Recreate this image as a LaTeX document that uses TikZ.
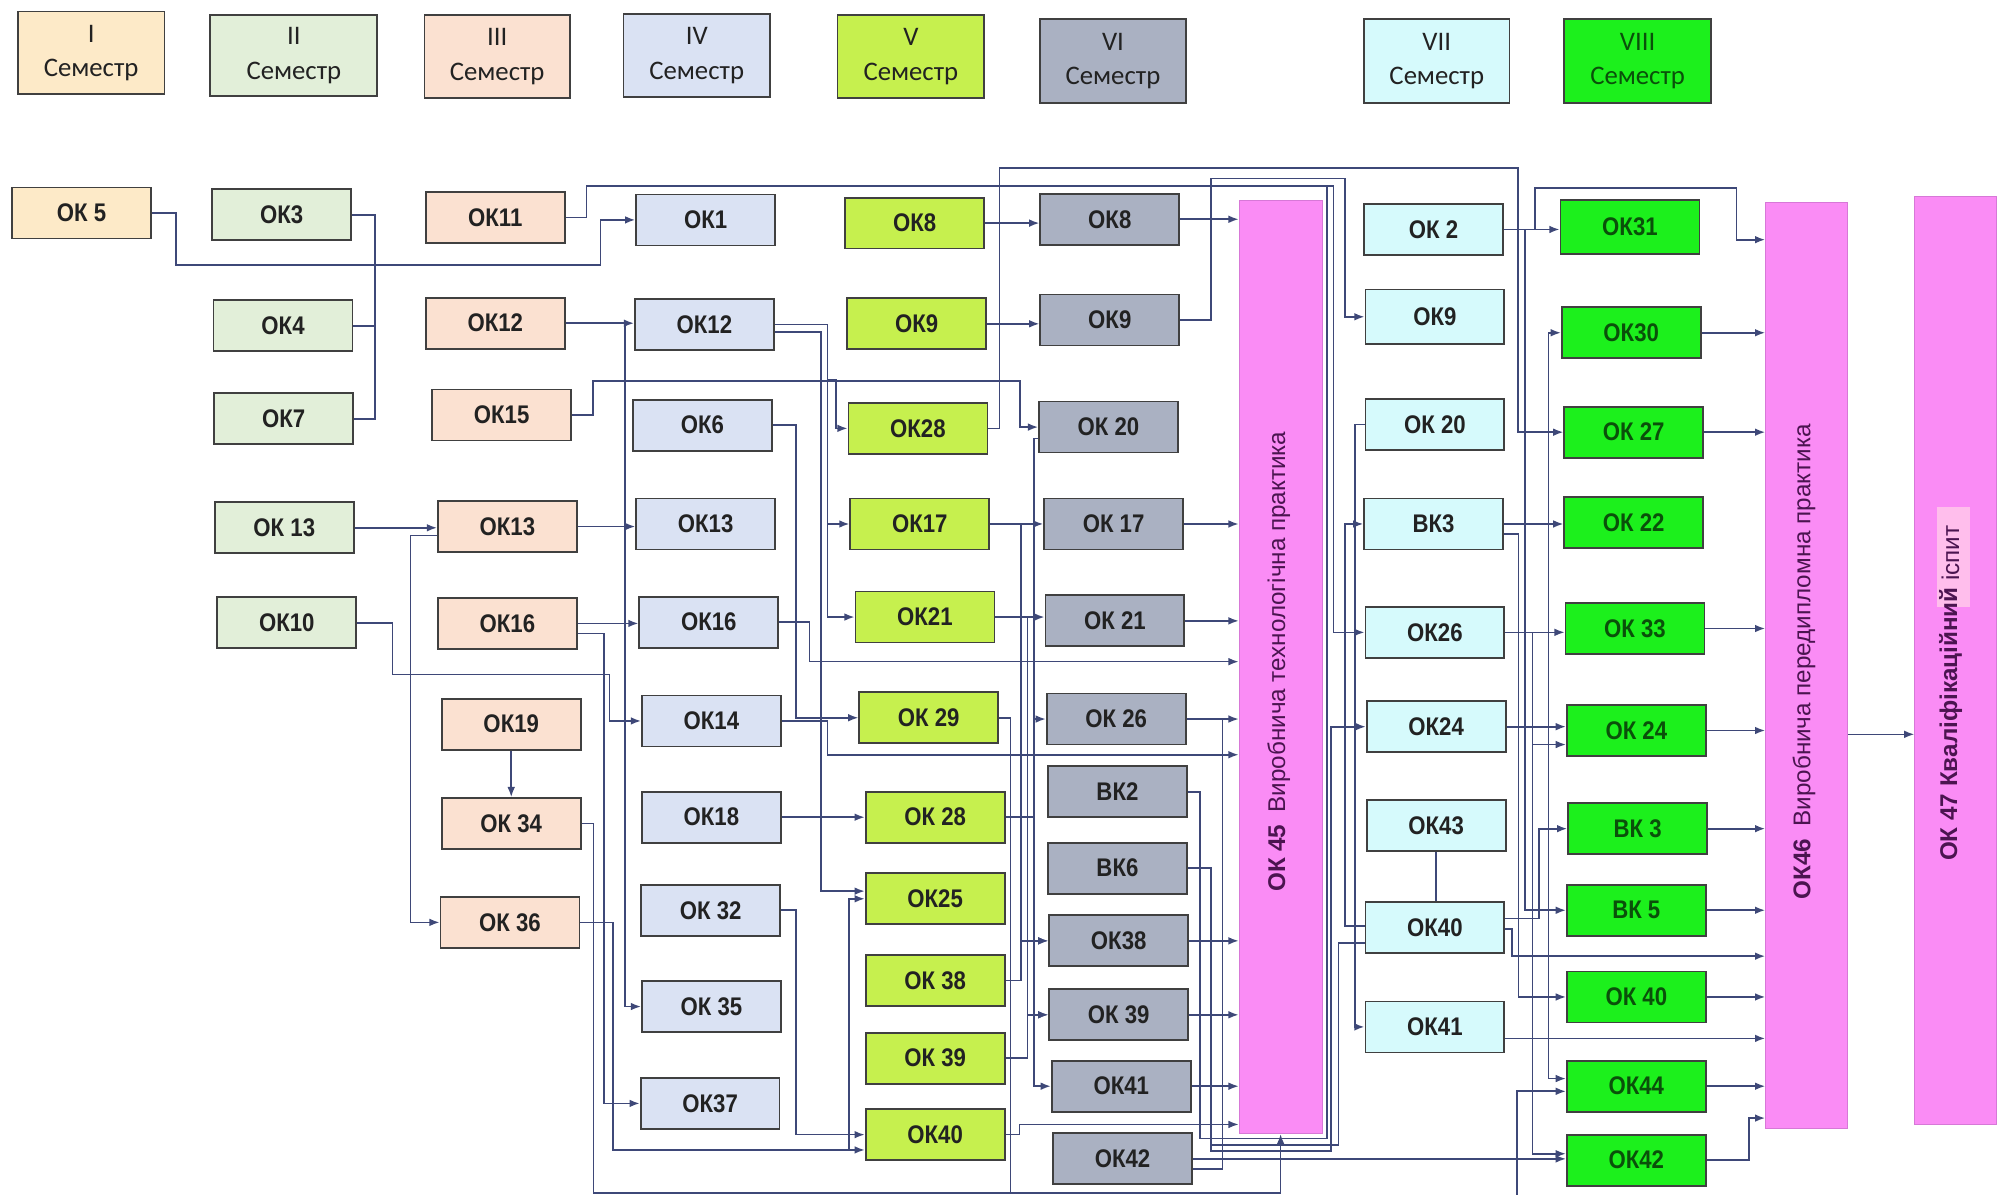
\documentclass[tikz,border=0pt]{standalone}
\usepackage{fontspec}
\setmainfont{Liberation Sans}[FakeStretch=0.87]
\newfontfamily\semfont{Carlito}
\newfontfamily\pracfont{Liberation Sans}
\usetikzlibrary{arrows.meta}

\definecolor{cI}{RGB}{253,234,200}
\definecolor{cII}{RGB}{226,239,217}
\definecolor{cIII}{RGB}{251,225,209}
\definecolor{cIV}{RGB}{218,226,243}
\definecolor{cV}{RGB}{198,240,78}
\definecolor{cVI}{RGB}{170,177,194}
\definecolor{cVII}{RGB}{214,250,252}
\definecolor{cVIII}{RGB}{28,240,28}
\definecolor{cP}{RGB}{250,140,245}
\definecolor{cPl}{RGB}{255,190,236}
\definecolor{pbord}{RGB}{215,120,215}
\definecolor{bord}{RGB}{64,64,64}
\definecolor{txt}{RGB}{34,34,34}
\definecolor{txtg}{RGB}{10,80,10}
\definecolor{ptxt}{RGB}{75,20,80}
\definecolor{lnc}{RGB}{62,72,120}

\newcommand{\boxfont}{\fontsize{20}{24}\selectfont\bfseries}
\newcommand{\legfont}{\semfont\fontsize{21}{27}\selectfont}
\newcommand{\ptfont}{\pracfont\fontsize{19}{22}\selectfont}

\tikzset{
  disc/.style={draw=bord, line width=1.4pt, minimum width=109pt, minimum height=40pt, inner sep=0pt, font=\boxfont, text=txt},
  kI/.style={disc, fill=cI},
  kII/.style={disc, fill=cII},
  kIII/.style={disc, fill=cIII},
  kIV/.style={disc, fill=cIV},
  kV/.style={disc, fill=cV},
  kVI/.style={disc, fill=cVI},
  kVII/.style={disc, fill=cVII},
  kVIII/.style={disc, fill=cVIII, text=txtg},
  leg/.style={draw=bord, line width=1.4pt, inner sep=0pt, align=center, font=\legfont, text=txt},
  prac/.style={draw=pbord, line width=0.8pt, fill=cP, inner sep=0pt},
  ptext/.style={font=\ptfont, text=ptxt, rotate=90},
  flow/.style={draw=lnc, line width=1.3pt, -{Latex[length=8pt,width=6pt]}},
  wire/.style={draw=lnc, line width=1.3pt}
}

\begin{document}
\begin{tikzpicture}[x=1pt, y=-1pt]
        \fill [white] (0,0) rectangle (1568,937);
        \useasboundingbox (0,0) rectangle (1568,937);

        \node [leg, fill=cI, minimum width=115pt, minimum height=65pt] (legI) at (71.5,41.5) {I\\Семестр};
        \node [leg, fill=cII, minimum width=131pt, minimum height=63pt] (legII) at (230.5,43.5) {II\\Семестр};
        \node [leg, fill=cIII, minimum width=114pt, minimum height=65pt] (legIII) at (390,44.5) {III\\Семестр};
        \node [leg, fill=cIV, minimum width=115pt, minimum height=65pt] (legIV) at (546.5,43.5) {IV\\Семестр};
        \node [leg, fill=cV, minimum width=115pt, minimum height=65pt] (legV) at (714.5,44.5) {V\\Семестр};
        \node [leg, fill=cVI, minimum width=114pt, minimum height=66pt] (legVI) at (873,48) {VI\\Семестр};
        \node [leg, fill=cVII, minimum width=114pt, minimum height=66pt] (legVII) at (1127,48) {VII\\Семестр};
        \node [leg, fill=cVIII, text=txtg, minimum width=115pt, minimum height=66pt] (legVIII) at (1284.5,48) {VIII\\Семестр};

        \node [kI] (s1k5) at (64,167) {ОК 5};

        \node [kII] (s2k3) at (221,168.5) {ОК3};
        \node [kII] (s2k4) at (222,255.5) {ОК4};
        \node [kII] (s2k7) at (222.5,328.5) {ОК7};
        \node [kII] (s2k13) at (223,414) {ОК 13};
        \node [kII] (s2k10) at (225,488.5) {ОК10};

        \node [kIII] (s3k11) at (388.5,170.5) {ОК11};
        \node [kIII] (s3k12) at (388.5,253.5) {ОК12};
        \node [kIII] (s3k15) at (393.5,325.5) {ОК15};
        \node [kIII] (s3k13) at (398,413) {ОК13};
        \node [kIII] (s3k16) at (398,489) {ОК16};
        \node [kIII] (s3k19) at (401,568) {ОК19};
        \node [kIII] (s3k34) at (401,646) {ОК 34};
        \node [kIII] (s3k36) at (400,723.5) {ОК 36};

        \node [kIV] (s4k1) at (553.5,172.5) {ОК1};
        \node [kIV] (s4k12) at (552.5,254.5) {ОК12};
        \node [kIV] (s4k6) at (551,333.5) {ОК6};
        \node [kIV] (s4k13) at (553.5,411) {ОК13};
        \node [kIV] (s4k16) at (556,488) {ОК16};
        \node [kIV] (s4k14) at (558,565.5) {ОК14};
        \node [kIV] (s4k18) at (558,641) {ОК18};
        \node [kIV] (s4k32) at (557.5,714) {ОК 32};
        \node [kIV] (s4k35) at (558,789.5) {ОК 35};
        \node [kIV] (s4k37) at (557,865.5) {ОК37};

        \node [kV] (s5k8) at (717.5,175) {ОК8};
        \node [kV] (s5k9) at (719,254) {ОК9};
        \node [kV] (s5k28) at (720,336) {ОК28};
        \node [kV] (s5k17) at (721.5,411) {ОК17};
        \node [kV] (s5k21) at (725.5,484) {ОК21};
        \node [kV] (s5k29) at (728.5,563) {ОК 29};
        \node [kV] (s5k28b) at (733.5,641) {ОК 28};
        \node [kV] (s5k25) at (733.5,705) {ОК25};
        \node [kV] (s5k38) at (733.5,769) {ОК 38};
        \node [kV] (s5k39) at (733.5,830) {ОК 39};
        \node [kV] (s5k40) at (733.5,890) {ОК40};

        \node [kVI] (s6k8) at (870.5,172) {ОК8};
        \node [kVI] (s6k9) at (870.5,251) {ОК9};
        \node [kVI] (s6k20) at (869.5,335) {ОК 20};
        \node [kVI] (s6k17) at (873.5,411) {ОК 17};
        \node [kVI] (s6k21) at (874.5,487) {ОК 21};
        \node [kVI] (s6k26) at (875.5,564) {ОК 26};
        \node [kVI] (s6v2) at (876.5,621) {ВК2};
        \node [kVI] (s6v6) at (876.5,681) {ВК6};
        \node [kVI] (s6k38) at (877.5,738) {ОК38};
        \node [kVI] (s6k39) at (877.5,796) {ОК 39};
        \node [kVI] (s6k41) at (879.5,852) {ОК41};
        \node [kVI] (s6k42) at (880.5,909) {ОК42};

        \node [kVII] (s7k2) at (1124.5,180) {ОК 2};
        \node [kVII, minimum height=43pt] (s7k9) at (1125.5,248.5) {ОК9};
        \node [kVII] (s7k20) at (1125.5,333) {ОК 20};
        \node [kVII] (s7v3) at (1124.5,411) {ВК3};
        \node [kVII] (s7k26) at (1125.5,496) {ОК26};
        \node [kVII] (s7k24) at (1126.5,570) {ОК24};
        \node [kVII] (s7k43) at (1126.5,647.5) {ОК43};
        \node [kVII] (s7k40) at (1125.5,727.5) {ОК40};
        \node [kVII] (s7k41) at (1125.5,805.5) {ОК41};

        \node [kVIII, minimum height=42pt] (s8k31) at (1278.5,178) {ОК31};
        \node [kVIII] (s8k30) at (1279.5,261) {ОК30};
        \node [kVIII] (s8k27) at (1281.5,339) {ОК 27};
        \node [kVIII] (s8k22) at (1281.5,410) {ОК 22};
        \node [kVIII] (s8k33) at (1282.5,493) {ОК 33};
        \node [kVIII] (s8k24) at (1283.5,573) {ОК 24};
        \node [kVIII] (s8v3) at (1284.5,650) {ВК 3};
        \node [kVIII] (s8v5) at (1283.5,714) {ВК 5};
        \node [kVIII] (s8k40) at (1283.5,782) {ОК 40};
        \node [kVIII] (s8k44) at (1283.5,852) {ОК44};
        \node [kVIII] (s8k42) at (1283.5,910) {ОК42};

        \node [prac, minimum width=65pt, minimum height=732pt] (s45) at (1004.5,523) {};
        \node [prac, minimum width=64pt, minimum height=726pt] (s46) at (1417,522) {};
        \node [prac, minimum width=64pt, minimum height=728pt] (s47) at (1534,518) {};
        \fill [cPl] (1519,398) rectangle (1545,476);
        \node [ptext] (t45) at (1003,519) {\textbf{ОК 45}\enspace Виробнича технологічна практика};
        \node [ptext] (t46) at (1415,519) {\textbf{ОК46}\enspace Виробнича передипломна практика};
        \node [ptext] (t47a) at (1530,568) {\textbf{ОК 47 Кваліфікаційний}};
        \node [ptext] (t47b) at (1530,434) {іспит};

        \draw [flow] (s1k5.east) -- (138,167) |- (471,208) |- (s4k1);
        \draw [wire] (s2k3.east) -- (294,168.5) -- (294,328.5) -- (s2k7.east);
        \draw [wire] (s2k4.east) -- (294,255.5);
        \draw [flow] (s3k11.east) -- (460,170.5) |- (1046,146) |- (s7k26);
        \draw [flow] (s3k12.east) -- (s3k12.east -| s4k12.west);
        \draw [flow] (s3k12.east -| 490,0) |- (s4k35);
        \draw [flow] (s3k15.east) -- (465,325.5) |- (800,299) |- (s6k20);
        \draw [flow] (s2k13.east) -- (s2k13.east -| s3k13.west);
        \draw [flow] ([yshift=-7pt]s3k13.west) -- (322,420) |- (s3k36);
        \draw [flow] (s3k13.east) -- (s3k13.east -| s4k13.west);
        \draw [flow] (s2k10.east) -- (308,488.5) |- (478,529) |- (s4k14);
        \draw [flow] (s3k16.east) -- (s3k16.east -| s4k16.west);
        \draw [flow] ([yshift=-8pt]s3k16.east) -- (474,497) |- (s4k37);
        \draw [flow] (s3k19) -- (s3k34);
        \draw [flow] (s3k34.east) -- (465.5,646) -- (465.5,936) -| (s45.south);
        \draw [flow] (s3k36.east) -- (481,723.5) |- ([yshift=-12pt]s5k40.west);

        \draw [flow] (s4k32.east) -- (624.6,714) |- (s5k40);
        \draw [flow] ([yshift=-12pt]s5k40.west -| 666,0) |- (s5k25);
        \draw [flow] (s4k18.east) -- (s4k18.east -| s5k28b.west);
        \draw [flow] (s4k6.east) -- (624.6,333.5) |- (s5k29);
        \draw [flow] (s4k12.east) -| (649,298) -- (656,298) |- (s5k28);
        \draw [flow] (s4k12.east) -| (649,300) |- (s5k17);
        \draw [flow] (s4k12.east) -| (649,300) |- (s5k21);
        \draw [flow] ([yshift=-6pt]s4k12.east) -| (644,300) |- ([yshift=6pt]s5k25.west);
        \draw [flow] (s4k16.east) -- (635,488) |- ([yshift=4pt]s45.west);
        \draw [flow] (s4k14.east) -- (649,565.5) |- ([yshift=-69pt]s45.west);

        \draw [flow] (s5k8.east) -- (s5k8.east -| s6k8.west);
        \draw [flow] (s5k9.east) -- (s5k9.east -| s6k9.west);
        \draw [flow] (s5k17.east) -- (s5k17.east -| s6k17.west);
        \draw [flow] (s5k21.east) -- (s5k21.east -| s6k21.west);
        \draw [flow] (s5k28.east) -- (783.9,336) |- (1190.9,132) |- (s8k27);
        \draw [wire] (s5k29.east) -- (792.6,563) -- (792.6,936);
        \draw [flow] (s5k17.east) -| (801,600) |- (s6k38);
        \draw [flow] (s5k38.east) -| (801,760) |- (s6k38);
        \draw [flow] (s5k21.east) -| (806,600) |- (s6k39);
        \draw [flow] (s5k39.east) -| (806,810) |- (s6k39);
        \draw [flow] ([yshift=-9pt]s6k20.west) -| (811,500) |- (s6k26);
        \draw [flow] ([yshift=-9pt]s6k20.west) -| (811,700) |- (s6k41);
        \draw [wire] (s5k28b.east) -- (811,641);
        \draw [flow] (s5k40.east) -- (799.6,890) |- ([yshift=-359pt]s45.west);

        \draw [flow] (s6k8.east) -- (s6k8.east -| s45.west);
        \draw [flow] (s6k17.east) -- (s6k17.east -| s45.west);
        \draw [flow] (s6k21.east) -- (s6k21.east -| s45.west);
        \draw [flow] (s6k26.east) -- (s6k26.east -| s45.west);
        \draw [flow] (s6k38.east) -- (s6k38.east -| s45.west);
        \draw [flow] (s6k39.east) -- (s6k39.east -| s45.west);
        \draw [flow] (s6k41.east) -- (s6k41.east -| s45.west);
        \draw [flow] (s6k9.east) -- (950,251) |- (1055,140) |- (s7k9);
        \draw [flow] (s6k42.east) -- (s6k42.east -| s8k42.west);
        \draw [wire] ([yshift=-8pt]s6k42.east) -| (959,564);
        \draw [wire] (s6v2.east) -- (941,621) |- (1041,893) -- (1041,146);
        \draw [wire] (s6v6.east) -- (950,681) |- (1050,898) |- ([yshift=-12pt]s7k40.west);
        \draw [flow] (s6v6.east) -- (950,681) |- (1044,903) |- (s7k24);

        \draw [flow] (s7k20.west) -- (1062.8,333) |- (s7k41);
        \draw [flow] ([yshift=1pt]s7k40.west) -- (1055,726.5) |- (s7v3);
        \draw [wire] (s7k43.south) -- (s7k43.south |- s7k40.north);

        \draw [flow] (s7k2.east) -- (1204,180) |- (1362,147.7) |- ([yshift=334pt]s46.west);
        \draw [flow] (s7k2.east) -- (s7k2.east -| s8k31.west);
        \draw [flow] (s7k2.east) -| (1196,500) |- (s8v5);
        \draw [flow] (s7v3.east) -- (s7v3.east -| s8k22.west);
        \draw [flow] ([yshift=-8pt]s7v3.east) -| (1191,500) |- (s8k40);
        \draw [flow] (s7k26.east) -- (s7k26.east -| s8k33.west);
        \draw [flow] (s7k24.east) -- (s7k24.east -| s8k24.west);
        \draw [flow] ([yshift=7pt]s7k40.east) -| (1207,700) |- (s8v3);
        \draw [flow] ([yshift=-1pt]s7k40.east) -| (1186,740) |- ([yshift=-228pt]s46.west);
        \draw [flow] ([yshift=-9pt]s7k41.east) -- ([yshift=-9pt]s7k41.east -| s46.west);
        \draw [flow] (s7k24.east) -| (1214.6,400) |- (s8k30);
        \draw [flow] (s7k24.east) -| (1214.6,700) |- ([yshift=6pt]s8k44.west);
        \draw [flow] (s7k26.east) -| (1202,550) |- ([yshift=-11pt]s8k24.west);
        \draw [flow] (s7k26.east) -| (1202,800) |- ([yshift=5pt]s8k42.west);
        \coordinate (bot44) at (1190,937);
        \draw [flow] (bot44) |- ([yshift=-4pt]s8k44.west);

        \draw [flow] (s8k30.east) -- (s8k30.east -| s46.west);
        \draw [flow] (s8k27.east) -- (s8k27.east -| s46.west);
        \draw [flow] (s8k33.east) -- (s8k33.east -| s46.west);
        \draw [flow] (s8k24.east) -- (s8k24.east -| s46.west);
        \draw [flow] (s8v3.east) -- (s8v3.east -| s46.west);
        \draw [flow] (s8v5.east) -- (s8v5.east -| s46.west);
        \draw [flow] (s8k40.east) -- (s8k40.east -| s46.west);
        \draw [flow] (s8k44.east) -- (s8k44.east -| s46.west);
        \draw [flow] (s8k42.east) -- (1372,910) |- ([yshift=-355pt]s46.west);
        \draw [flow] ([yshift=-54pt]s46.east) -- ([yshift=-54pt]s46.east -| s47.west);
    \end{tikzpicture}
\end{document}
